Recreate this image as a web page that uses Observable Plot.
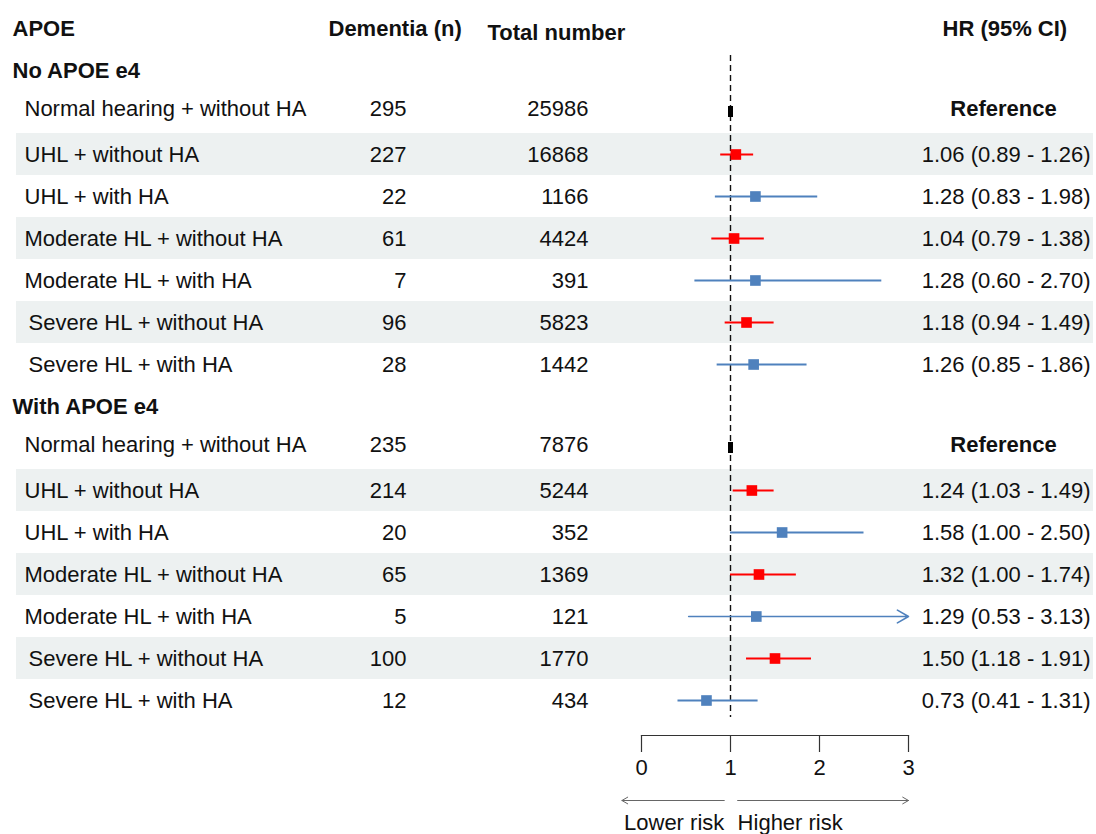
<!DOCTYPE html>
<html>
<head>
<meta charset="utf-8">
<script src="https://cdn.jsdelivr.net/npm/d3@7"></script>
<script src="https://cdn.jsdelivr.net/npm/@observablehq/plot@0.6"></script>
<style>
  body { margin: 0; background: #fff; }
  svg { display: block; }
</style>
</head>
<body>
<div id="chart"></div>
<script>
// ---------- data ----------
const groups = ["No APOE e4", "With APOE e4"];
const categories = [
  "Normal hearing + without HA",
  "UHL + without HA",
  "UHL + with HA",
  "Moderate HL + without HA",
  "Moderate HL + with HA",
  "Severe HL + without HA",
  "Severe HL + with HA"
];
const dementiaNo   = [295, 227, 22, 61, 7, 96, 28];
const totalNo      = [25986, 16868, 1166, 4424, 391, 5823, 1442];
const hrNo         = [1, 1.06, 1.28, 1.04, 1.28, 1.18, 1.26];
const loNo         = [1, 0.89, 0.83, 0.79, 0.60, 0.94, 0.85];
const hiNo         = [1, 1.26, 1.98, 1.38, 2.70, 1.49, 1.86];

const dementiaWith = [235, 214, 20, 65, 5, 100, 12];
const totalWith    = [7876, 5244, 352, 1369, 121, 1770, 434];
const hrWith       = [1, 1.24, 1.58, 1.32, 1.29, 1.50, 0.73];
const loWith       = [1, 1.03, 1.00, 1.00, 0.53, 1.18, 0.41];
const hiWith       = [1, 1.49, 2.50, 1.74, 3.13, 1.91, 1.31];

const columnHeaders = ["APOE", "Dementia (n)", "Total number", "HR (95% CI)"];
const referenceLabel = "Reference";
const xDomain = [0, 3];
const xTicks = [0, 1, 2, 3];
const riskLabels = ["Lower risk", "Higher risk"];
const riskArrowFrom = [0.93, 1.08];
const riskArrowTo = [-0.22, 3];

// ---------- table ----------
const series = [
  {n: dementiaNo, total: totalNo, hr: hrNo, lo: loNo, hi: hiNo},
  {n: dementiaWith, total: totalWith, hr: hrWith, lo: loWith, hi: hiWith}
];
const rows = [];
groups.forEach((g, gi) => {
  rows.push({key: `g${gi}`, type: "group", label: g});
  categories.forEach((c, i) => {
    const s = series[gi];
    const withHA = c.endsWith("+ with HA");
    rows.push({
      key: `g${gi}-${i}`, type: i === 0 ? "ref" : "est", label: c,
      n: s.n[i], total: s.total[i], hr: s.hr[i], lo: s.lo[i], hi: s.hi[i],
      withHA, shade: i > 0 && !withHA
    });
  });
});
const groupRows = rows.filter(d => d.type === "group");
const refRows = rows.filter(d => d.type === "ref");
const estRows = rows.filter(d => d.type === "est");

// ---------- style / layout ----------
const W = 1096;
const FONT = "'Liberation Sans', Arial, Helvetica, sans-serif";
const RED = "#ff0000";
const BLUE = "#4f81bd";
const INK = "#111111";
const BAND = "#edf1f1";
const xRange = [641, 908];
const col = {group: 12, label: 24, labelSevere: 28, n: 406, total: 588, hr: 1090, ref: 1003};
const headerPos = [[12, 20], [328, 20], [487, 24], [942, 20]];
const refShift = -4;
const ciColor = d => d.withHA ? BLUE : RED;
const isSevere = d => d.label.startsWith("Severe");

const tableText = (data, opts) => Plot.text(data, {y: "key", frameAnchor: "left", fontSize: 22, fill: INK, ...opts});

const main = Plot.plot({
  width: W, height: 790,
  marginTop: 0, marginLeft: 0, marginRight: 0, marginBottom: 55,
  style: {fontFamily: FONT, fontSize: "22px", color: INK, background: "#fff", overflow: "visible"},
  x: {domain: xDomain, range: xRange},
  y: {type: "band", domain: rows.map(d => d.key), range: [49, 721], padding: 0, axis: null},
  color: {type: "identity"},
  marks: [
    Plot.cell(rows.filter(d => d.shade), {y: "key", fill: BAND, insetLeft: 16, insetRight: 3}),
    Plot.ruleX([1], {stroke: INK, strokeWidth: 1.4, strokeDasharray: "6,4", insetTop: 55, insetBottom: 18}),
    Plot.ruleY(estRows.filter(d => d.hi <= xDomain[1]), {y: "key", x1: "lo", x2: "hi", stroke: ciColor, strokeWidth: 2}),
    Plot.arrow(estRows.filter(d => d.hi > xDomain[1]), {
      y1: "key", y2: "key", x1: "lo", x2: () => xDomain[1],
      stroke: ciColor, strokeWidth: 1.6, headLength: 12, headAngle: 60, bend: 0
    }),
    Plot.dot(estRows, {x: "hr", y: "key", symbol: "square", r: 6, fill: ciColor, stroke: null}),
    Plot.tickX(refRows, {x: "hr", y: "key", stroke: "#000", strokeWidth: 5, insetTop: 15, insetBottom: 16}),
    // axis
    Plot.frame({anchor: "bottom", insetLeft: xRange[0], insetRight: W - xRange[1], stroke: "#333", strokeWidth: 1.2}),
    Plot.axisX(xTicks, {anchor: "bottom", tickSize: 17, tickPadding: 7, fontSize: 22, stroke: "#333", strokeWidth: 1.2, fill: INK, label: null, tickFormat: d => String(d)}),
    // headers
    ...columnHeaders.map((h, i) => Plot.text([h], {
      text: d => d, frameAnchor: "top-left", textAnchor: "start",
      dx: headerPos[i][0], dy: headerPos[i][1], fontSize: 22, fontWeight: "bold", fill: INK
    })),
    // group headers
    tableText(groupRows, {text: "label", textAnchor: "start", dx: col.group, fontWeight: "bold"}),
    // reference rows (text sits slightly high in the original)
    tableText(refRows, {text: "label", textAnchor: "start", dx: col.label, dy: refShift}),
    tableText(refRows, {text: d => String(d.n), textAnchor: "end", dx: col.n, dy: refShift}),
    tableText(refRows, {text: d => String(d.total), textAnchor: "end", dx: col.total, dy: refShift}),
    tableText(refRows, {text: () => referenceLabel, textAnchor: "middle", dx: col.ref, dy: refShift, fontWeight: "bold"}),
    // estimate rows
    tableText(estRows.filter(d => !isSevere(d)), {text: "label", textAnchor: "start", dx: col.label}),
    tableText(estRows.filter(isSevere), {text: "label", textAnchor: "start", dx: col.labelSevere}),
    tableText(estRows, {text: d => String(d.n), textAnchor: "end", dx: col.n}),
    tableText(estRows, {text: d => String(d.total), textAnchor: "end", dx: col.total}),
    tableText(estRows, {text: d => `${d.hr.toFixed(2)} (${d.lo.toFixed(2)} - ${d.hi.toFixed(2)})`, textAnchor: "end", dx: col.hr})
  ]
});

const bottom = Plot.plot({
  width: W, height: 44, margin: 0,
  style: {fontFamily: FONT, fontSize: "22px", color: INK, background: "#fff", overflow: "visible"},
  x: {domain: xDomain, range: xRange, axis: null},
  y: {type: "point", domain: ["arrow", "label"], range: [10, 32], padding: 0, axis: null},
  marks: [
    Plot.arrow([0, 1], {
      x1: i => riskArrowFrom[i], x2: i => riskArrowTo[i], y1: () => "arrow", y2: () => "arrow",
      stroke: "#666", strokeWidth: 1, headLength: 10, headAngle: 60, bend: 0
    }),
    Plot.text([0], {x: i => riskArrowFrom[i], y: () => "label", text: i => riskLabels[i], textAnchor: "end", fontSize: 22, fill: INK}),
    Plot.text([1], {x: i => riskArrowFrom[i], y: () => "label", text: i => riskLabels[i], textAnchor: "start", fontSize: 22, fill: INK})
  ]
});

const root = document.getElementById("chart");
root.appendChild(main);
root.appendChild(bottom);
</script>
</body>
</html>
